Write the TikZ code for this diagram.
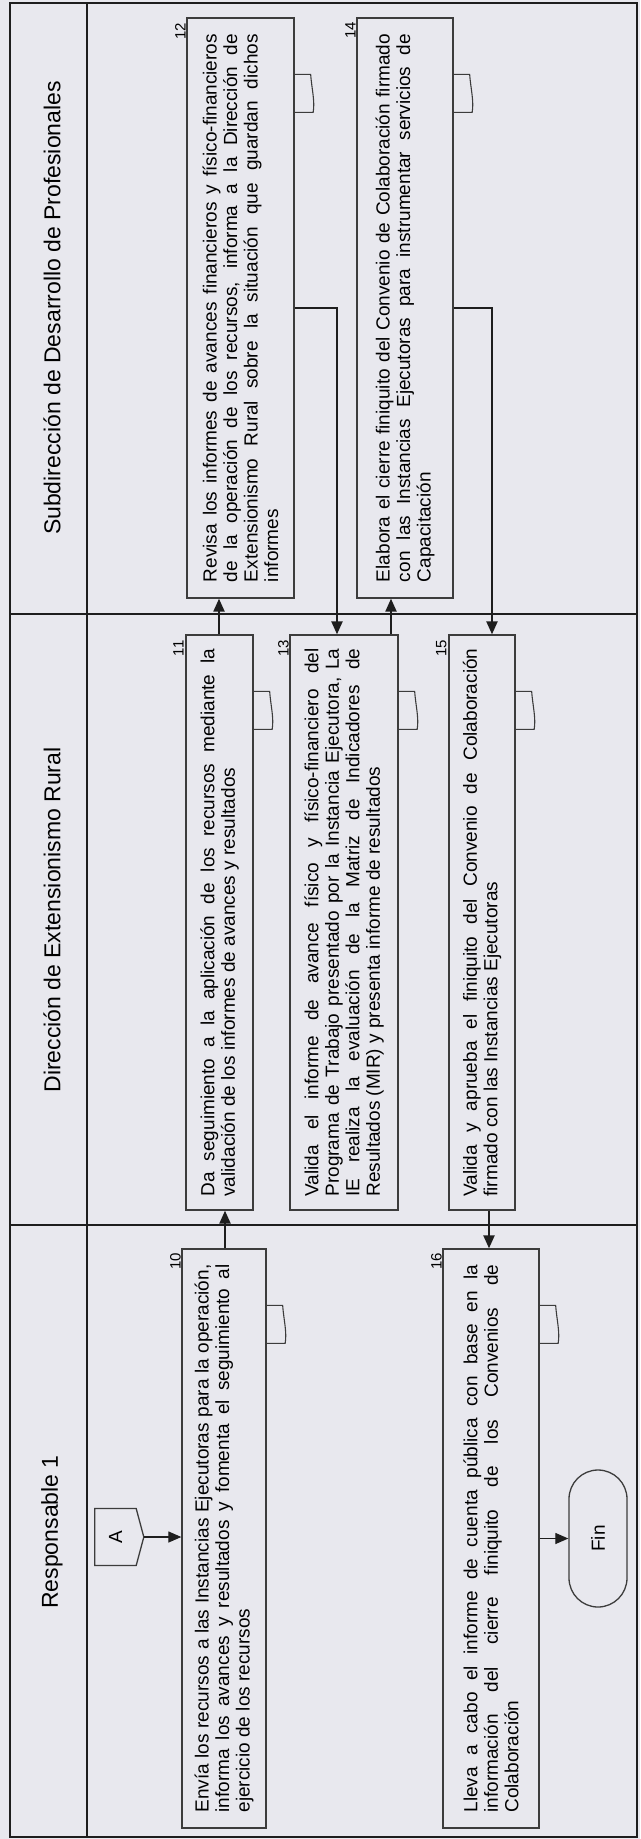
\documentclass[tikz,border=0pt]{standalone}
\usepackage{fontspec}
\setmainfont{Liberation Sans}
\usetikzlibrary{arrows.meta,shapes.symbols,calc}
\definecolor{bgc}{RGB}{232,232,238}
\definecolor{lnc}{RGB}{30,30,30}
\definecolor{bxc}{RGB}{60,60,60}
\newcommand{\boxtxt}[1]{\rotatebox{90}{\parbox{548pt}{\fontsize{19}{20.5}\selectfont\tolerance=9999\hbadness=10000\hyphenpenalty=10000\exhyphenpenalty=10000 #1}}}
\newcommand{\docm}[1]{\draw[docline] ($(#1.north east)+(0,57)$) -- ($(#1.north east)+(16,57)$) .. controls ($(#1.north east)+(17,71)$) and ($(#1.north east)+(20.5,84)$) .. ($(#1.north east)+(18.5,95)$) -- ($(#1.north east)+(0,95)$);}
\tikzset{
  stepbox/.style={draw=bxc, line width=1.3pt, fill=bgc, rectangle, inner sep=0pt},
  numlab/.style={font=\fontsize{15}{17}\selectfont, inner sep=0pt},
  hdr/.style={font=\fontsize{23}{27}\selectfont, inner sep=0pt},
  lane/.style={draw=lnc, line width=2pt},
  conn/.style={draw=lnc, line width=2.2pt, -{Triangle[length=13pt,width=11pt]}},
  thinarrow/.style={draw=lnc, line width=1.2pt, -{Triangle[length=13pt,width=11pt]}},
  docline/.style={draw=bxc, line width=1.1pt}
}
\begin{document}
\begin{tikzpicture}[x=1pt,y=-1pt]
\useasboundingbox (0,0) rectangle (640,1839);
\fill[bgc] (0,0) rectangle (640,1839);
% lanes
\draw[lane] (10,3) rectangle (637,1837);
\draw[lane] (87,3) -- (87,1837);
\draw[lane] (10,614) -- (637,614);
\draw[lane] (10,1225) -- (637,1225);
\node[hdr] (H1) at (52,308) {\rotatebox{90}{Subdirección de Desarrollo de Profesionales}};
\node[hdr] (H2) at (52,920) {\rotatebox{90}{Dirección de Extensionismo Rural}};
\node[hdr] (H3) at (52,1532) {\rotatebox{90}{Responsable 1}};
% boxes
\node[stepbox, minimum width=107pt, minimum height=580pt] (B12) at (240.5,308) {\boxtxt{Revisa los informes de avances financieros y físico-financieros\linebreak de la operación de los recursos, informa a la Dirección de\linebreak Extensionismo Rural sobre la situación que guardan dichos\linebreak informes}};
\node[stepbox, minimum width=96pt, minimum height=580pt] (B14) at (405,308) {\boxtxt{Elabora el cierre finiquito del Convenio de Colaboración firmado\linebreak con las Instancias Ejecutoras para instrumentar servicios de\linebreak Capacitación}};
\node[stepbox, minimum width=67pt, minimum height=575pt] (B11) at (219.5,922.5) {\boxtxt{Da seguimiento a la aplicación de los recursos mediante la\linebreak validación de los informes de avances y resultados}};
\node[stepbox, minimum width=108pt, minimum height=575pt] (B13) at (344,922.5) {\boxtxt{Valida el informe de avance físico y físico-financiero del\linebreak Programa de Trabajo presentado por la Instancia Ejecutora, La\linebreak IE realiza la evaluación de la Matriz de Indicadores de\linebreak Resultados (MIR) y presenta informe de resultados}};
\node[stepbox, minimum width=66pt, minimum height=575pt] (B15) at (482,922.5) {\boxtxt{Valida y aprueba el finiquito del Convenio de Colaboración\linebreak firmado con las Instancias Ejecutoras}};
\node[stepbox, minimum width=84pt, minimum height=579pt] (B10) at (224,1538.5) {\boxtxt{Envía los recursos a las Instancias Ejecutoras para la operación,\linebreak informa los avances y resultados y fomenta el seguimiento al\linebreak ejercicio de los recursos}};
\node[stepbox, minimum width=96pt, minimum height=579pt] (B16) at (491,1538.5) {\boxtxt{Lleva a cabo el informe de cuenta pública con base en la\linebreak información del cierre finiquito de los Convenios de\linebreak Colaboración}};
% numbers
\node[numlab] (N12) at ([shift={(-6,14)}]B12.north west) {\rotatebox{90}{12}};
\node[numlab] (N14) at ([shift={(-6,13)}]B14.north west) {\rotatebox{90}{14}};
\node[numlab] (N11) at ([shift={(-7,14)}]B11.north west) {\rotatebox{90}{11}};
\node[numlab] (N13) at ([shift={(-6,14)}]B13.north west) {\rotatebox{90}{13}};
\node[numlab] (N15) at ([shift={(-7,14)}]B15.north west) {\rotatebox{90}{15}};
\node[numlab] (N10) at ([shift={(-6,13)}]B10.north west) {\rotatebox{90}{10}};
\node[numlab] (N16) at ([shift={(-6,13)}]B16.north west) {\rotatebox{90}{16}};
% document marks
\docm{B12}\docm{B14}\docm{B11}\docm{B13}\docm{B15}\docm{B10}\docm{B16}
% connector and terminator
\node[draw=bxc, line width=1.3pt, fill=bgc, shape=signal, signal to=east, signal pointer angle=150, minimum width=49pt, minimum height=57pt, inner sep=0pt] (A) at (115.5,1537) {\rotatebox{90}{\fontsize{19}{20}\selectfont A}};
\node[draw=bxc, line width=1.3pt, fill=bgc, rounded corners=29pt, minimum width=58pt, minimum height=137pt, inner sep=0pt] (Fin) at (598,1538.5) {\rotatebox{90}{\fontsize{19}{20}\selectfont Fin}};
% connectors
\coordinate (x2) at (225,0);
\coordinate (x3) at (219,0);
\coordinate (x4) at (337,0);
\coordinate (x5) at (391,0);
\coordinate (x6) at (492,0);
\coordinate (x7) at (489,0);
\draw[thinarrow] (A.east) -- (A.east -| B10.west);
\draw[conn] (B10.north -| x2) -- (B11.south -| x2);
\draw[conn] (B11.north -| x3) -- (B12.south -| x3);
\draw[conn] (B12.east) -| (B13.north -| x4);
\draw[conn] (B13.north -| x5) -- (B14.south -| x5);
\draw[conn] (B14.east) -| (B15.north -| x6);
\draw[conn] (B15.south -| x7) -- (B16.north -| x7);
\draw[thinarrow] (B16.east) -- (B16.east -| Fin.west);
\end{tikzpicture}
\end{document}
